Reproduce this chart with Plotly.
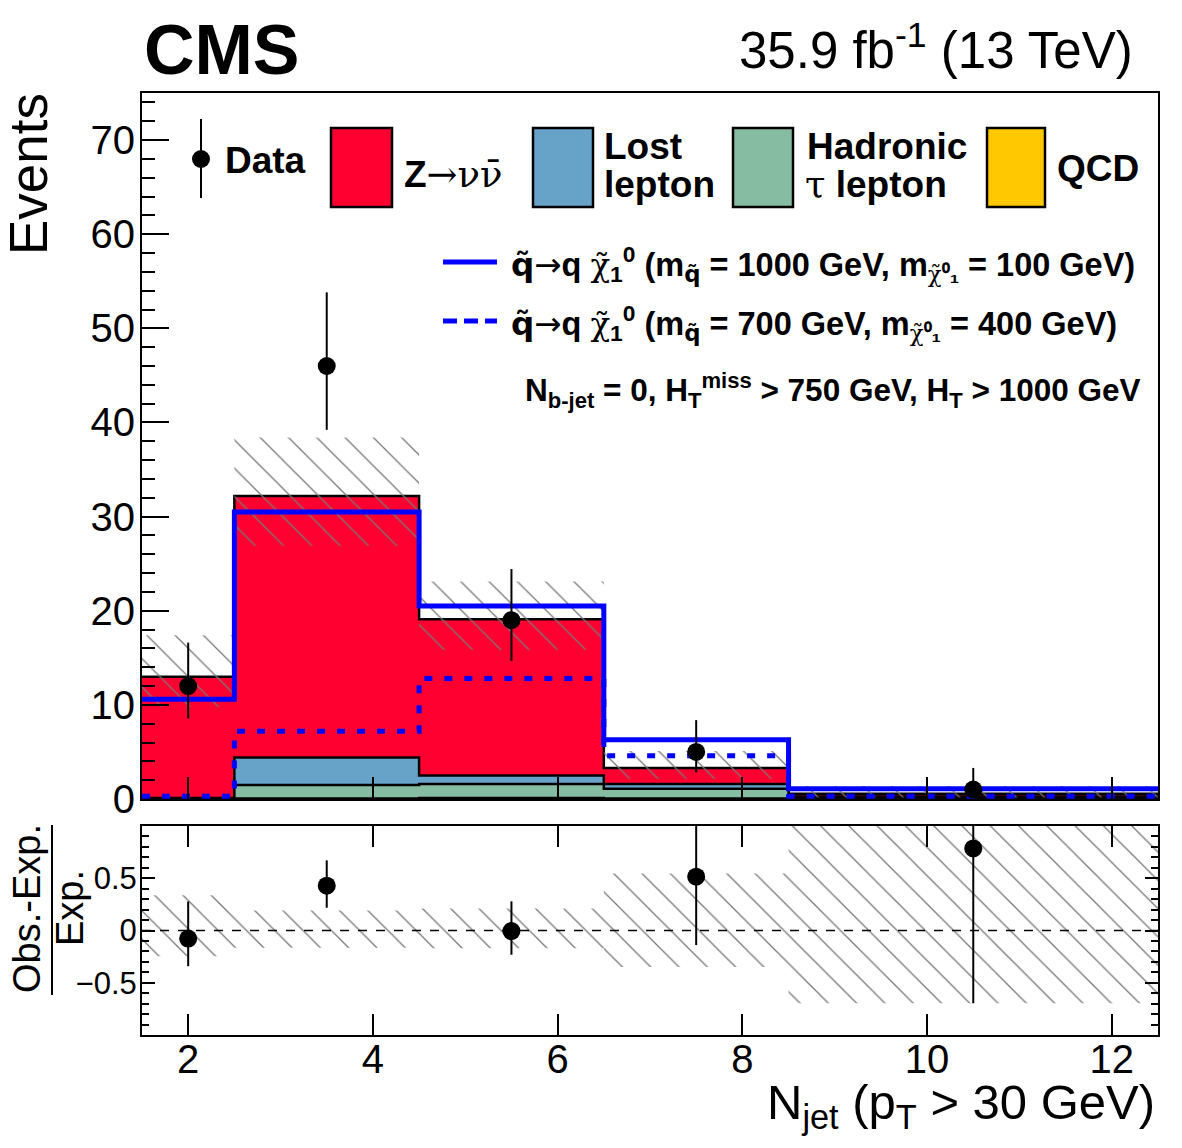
import plotly.graph_objects as go
import numpy as np

# ---------------- data ----------------
edges = [1.5, 2.5, 4.5, 6.5, 8.5, 12.5]
centers = [2.0, 3.5, 5.5, 7.5, 10.5]

znunu = [12.9, 27.8, 16.6, 1.7, 0.30]
lost_lepton = [0.05, 2.9, 0.9, 0.5, 0.14]
had_tau = [0.03, 1.45, 1.5, 1.05, 0.11]
qcd = [0.02, 0.05, 0.10, 0.05, 0.01]

unc_up = [4.4, 6.2, 4.0, 1.8, 0.82]
unc_dn = [3.2, 5.3, 3.25, 1.15, 0.39]

data = [12, 46, 19, 5, 1]
data_err_up = [4.61, 7.82, 5.43, 3.38, 2.30]
data_err_dn = [3.44, 6.78, 4.33, 2.16, 0.83]

sig_1000_100 = [10.6, 30.5, 20.5, 6.3, 1.1]
sig_700_400 = [0.3, 7.2, 12.8, 4.6, 0.3]

x_ticks = [2, 4, 6, 8, 10, 12]
y_ticks = [0, 10, 20, 30, 40, 50, 60, 70]
r_ticks = [-0.5, 0, 0.5]
r_ticktext = ["\u22120.5", "0", "0.5"]

# ---------------- style ----------------
FONT = "Liberation Sans"
C_ZNN = "#ff0030"
C_LL = "#67a3c9"
C_TAU = "#85bca2"
C_QCD = "#ffc800"
C_SIG = "#0000ff"
C_HATCH = "#777777"

W, H = 1182, 1148
L, R, T, B = 142, 1158, 93, 1035
PW, PH = R - L, B - T


def PX(x):
    return (x - L) / PW


def PY(y):
    return (B - y) / PH


def step(v):
    return list(v) + [v[-1]]


c_qcd = np.array(qcd)
c_tau = c_qcd + np.array(had_tau)
c_ll = c_tau + np.array(lost_lepton)
c_tot = c_ll + np.array(znunu)

fig = go.Figure()

# stacked backgrounds (drawn from the top-most cumulative down)
for cum, col in [(c_tot, C_ZNN), (c_ll, C_LL), (c_tau, C_TAU), (c_qcd, C_QCD)]:
    fig.add_trace(go.Scatter(
        x=edges, y=step(cum), mode="lines", line_shape="hv",
        line=dict(color="black", width=2.5), fill="tozeroy", fillcolor=col,
        xaxis="x", yaxis="y", hoverinfo="skip"))

pattern = dict(shape="\\", fgcolor=C_HATCH, bgcolor="rgba(0,0,0,0)",
               size=20, solidity=0.065, fillmode="replace")


def band(lower, upper, xa, ya):
    fig.add_trace(go.Scatter(x=edges, y=step(lower), mode="lines", line_shape="hv",
                             line=dict(width=0, color="rgba(0,0,0,0)"),
                             xaxis=xa, yaxis=ya, hoverinfo="skip"))
    fig.add_trace(go.Scatter(x=edges, y=step(upper), mode="lines", line_shape="hv",
                             line=dict(width=0, color="rgba(0,0,0,0)"),
                             fill="tonexty", fillcolor="rgba(0,0,0,0)",
                             fillpattern=pattern, xaxis=xa, yaxis=ya,
                             hoverinfo="skip"))


# uncertainty hatch, main panel
band(c_tot - np.array(unc_dn), c_tot + np.array(unc_up), "x", "y")

# signals
fig.add_trace(go.Scatter(
    x=edges, y=step(sig_1000_100), mode="lines", line_shape="hv",
    line=dict(color=C_SIG, width=5), xaxis="x", yaxis="y"))
fig.add_trace(go.Scatter(
    x=edges, y=step(sig_700_400), mode="lines", line_shape="hv",
    line=dict(color=C_SIG, width=5, dash="8px,12px"), xaxis="x", yaxis="y"))

# data
fig.add_trace(go.Scatter(
    x=centers, y=data, mode="markers",
    marker=dict(color="black", size=18),
    error_y=dict(type="data", symmetric=False, array=data_err_up,
                 arrayminus=data_err_dn, color="black", thickness=2, width=0),
    xaxis="x", yaxis="y"))

# ratio panel
tot = c_tot
rel_up = np.array(unc_up) / tot
rel_dn = np.array(unc_dn) / tot
band(-rel_dn, rel_up, "x2", "y2")
ratio = np.array(data) / tot - 1
fig.add_trace(go.Scatter(
    x=centers, y=list(ratio), mode="markers",
    marker=dict(color="black", size=18),
    error_y=dict(type="data", symmetric=False,
                 array=list(np.array(data_err_up) / tot),
                 arrayminus=list(np.array(data_err_dn) / tot),
                 color="black", thickness=2, width=0),
    xaxis="x2", yaxis="y2"))

main_bottom = (B - 799) / PH
ratio_top = (B - 826) / PH

axis_common = dict(showline=True, linecolor="black", linewidth=2,
                   showgrid=False, zeroline=False, ticks="inside",
                   tickcolor="black", tickwidth=2, automargin=False)

fig.update_layout(
    width=W, height=H, template="none",
    margin=dict(l=L, r=W - R, t=T, b=H - B, pad=0),
    paper_bgcolor="white", plot_bgcolor="white",
    showlegend=False,
    font=dict(family=FONT, color="black"),
    xaxis=dict(domain=[0, 1], range=[1.5, 12.5], anchor="y",
               tickvals=x_ticks, showticklabels=False, ticklen=22,
               mirror=True, **axis_common),
    yaxis=dict(domain=[main_bottom, 1], range=[0, 75], anchor="x",
               tickvals=y_ticks, ticklen=27, mirror=True, ticklabelstandoff=-3,
               tickfont=dict(size=40, family=FONT),
               minor=dict(ticks="inside", ticklen=13, dtick=2, tick0=0,
                          tickwidth=2, tickcolor="black", showgrid=False),
               **axis_common),
    xaxis2=dict(domain=[0, 1], range=[1.5, 12.5], anchor="y2", matches="x",
                tickvals=x_ticks, ticklen=21, mirror="ticks", ticklabelstandoff=-12,
                tickfont=dict(size=40, family=FONT), **axis_common),
    yaxis2=dict(domain=[0, ratio_top], range=[-1, 1], anchor="x2",
                tickvals=r_ticks, ticktext=r_ticktext, ticklen=13,
                mirror="ticks", ticklabelstandoff=-3,
                tickfont=dict(size=31, family=FONT),
                minor=dict(ticks="inside", ticklen=7, dtick=0.1, tick0=0,
                           tickwidth=2, tickcolor="black", showgrid=False),
                **axis_common),
)

shapes = []
# zero line in ratio
shapes.append(dict(type="line", xref="x2 domain", x0=0, x1=1, yref="y2",
                   y0=0, y1=0, line=dict(color="black", width=1.5, dash="dash"),
                   layer="above"))
# ratio title fraction bar
shapes.append(dict(type="line", xref="paper", yref="paper", x0=PX(52), x1=PX(52),
                   y0=PY(825), y1=PY(995), line=dict(color="black", width=2)))
# legend: data marker
shapes.append(dict(type="line", xref="paper", yref="paper", x0=PX(201), x1=PX(201),
                   y0=PY(119), y1=PY(198), line=dict(color="black", width=2)))
shapes.append(dict(type="circle", xref="paper", yref="paper", x0=PX(192), x1=PX(210),
                   y0=PY(150), y1=PY(168), fillcolor="black",
                   line=dict(color="black", width=0)))
# legend boxes
for (x0, x1), col in [((331, 392), C_ZNN), ((533, 593), C_LL),
                      ((733, 793), C_TAU), ((987, 1045), C_QCD)]:
    shapes.append(dict(type="rect", xref="paper", yref="paper", x0=PX(x0), x1=PX(x1),
                       y0=PY(128), y1=PY(207), fillcolor=col,
                       line=dict(color="black", width=2.5)))
# legend signal lines
shapes.append(dict(type="line", xref="paper", yref="paper", x0=PX(443), x1=PX(497),
                   y0=PY(262), y1=PY(262), line=dict(color=C_SIG, width=5)))
shapes.append(dict(type="line", xref="paper", yref="paper", x0=PX(443), x1=PX(497),
                   y0=PY(321), y1=PY(321), line=dict(color=C_SIG, width=5, dash="14px,7px")))
fig.update_layout(shapes=shapes)


def ann(text, x, y, size, xanchor="left", yanchor="middle", angle=0, family=FONT):
    return dict(text=text, x=PX(x), y=PY(y), xref="paper", yref="paper",
                showarrow=False, xanchor=xanchor, yanchor=yanchor, textangle=angle,
                borderpad=0, font=dict(size=size, family=family, color="black"))


SERIF = "<span style='font-family:DejaVu Serif;font-weight:normal'>"
DSANS = "<span style='font-family:DejaVu Sans;font-weight:normal'>"
END = "</span>"
QT = "<span style='font-family:DejaVu Sans'>q\u0303</span>"
ARROW = DSANS + "\u2192" + END
CHI = SERIF + "\u03c7\u0303" + END


def sig_label(msq, mlsp):
    return ("<b>" + QT + ARROW + "q " + CHI + "<sub>1</sub><sup>0</sup> (m<sub>" + QT +
            "</sub> = " + msq + " GeV, m<sub>" + CHI + "\u2070\u2081</sub> = " + mlsp +
            " GeV)</b>")


annotations = [
    ann("<b>CMS</b>", 143, 50, 70),
    ann("35.9 fb<sup>-1</sup> (13 TeV)", 1134, 47, 51, xanchor="right"),
    ann("Events", 28, 174, 53, xanchor="center", angle=-90),
    ann("Obs.-Exp.", 27, 909, 38, xanchor="center", angle=-90),
    ann("Exp.", 70, 908, 38, xanchor="center", angle=-90),
    ann("N<sub>jet</sub> (p<sub>T</sub> > 30 GeV)", 1156, 1105, 49, xanchor="right"),
    ann("<b>Data</b>", 224, 160, 37),
    ann("<b>Z</b>" + SERIF + "\u2192\u03bd\u03bd\u0304" + END, 403, 174, 37),
    ann("<b>Lost</b>", 603, 146, 37),
    ann("<b>lepton</b>", 603, 184, 37),
    ann("<b>Hadronic</b>", 806, 146, 37),
    ann(SERIF + "\u03c4" + END + "<b> lepton</b>", 804, 184, 37),
    ann("<b>QCD</b>", 1056, 168, 37),
    ann(sig_label("1000", "100"), 510, 264, 32.5),
    ann(sig_label("700", "400"), 510, 323, 32.5),
    ann("<b>N<sub>b-jet</sub> = 0, H<sub>T</sub><sup>miss</sup> > 750 GeV, "
        "H<sub>T</sub> > 1000 GeV</b>", 1142, 390, 31.5, xanchor="right"),
]
fig.update_layout(annotations=annotations)

fig.write_html("out.html")
